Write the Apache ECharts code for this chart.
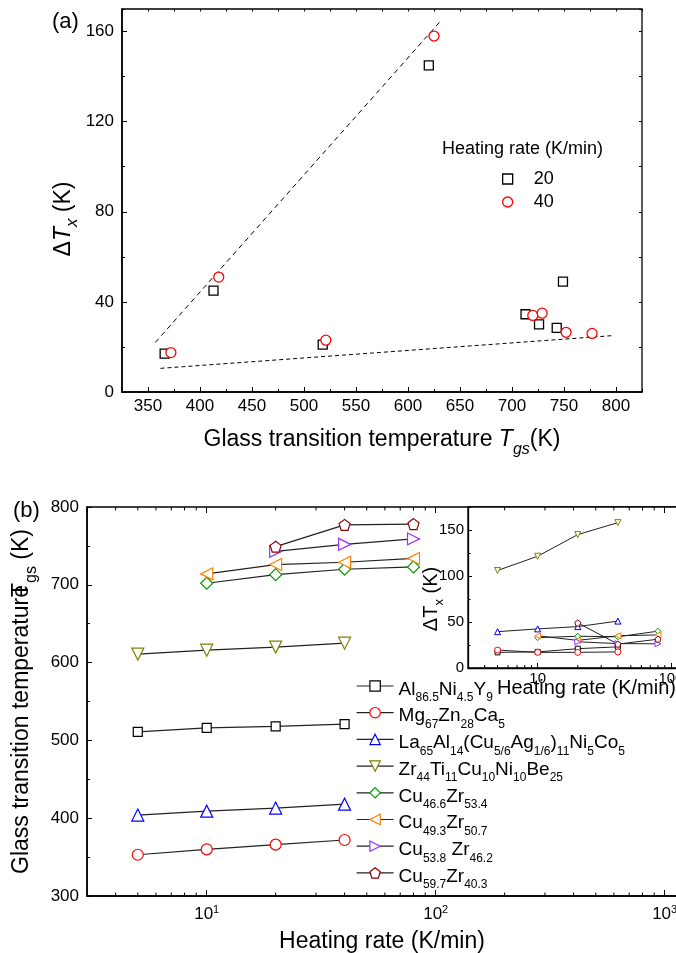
<!DOCTYPE html>
<html>
<head>
<meta charset="utf-8">
<script src="https://cdn.jsdelivr.net/npm/echarts@6/dist/echarts.min.js"></script>
<style>
  html, body { margin: 0; padding: 0; background: #fff; }
  #chart { width: 676px; height: 953px; }
</style>
</head>
<body>
<div id="chart"></div>
<script>
const FONT = '"Liberation Sans", Arial, Helvetica, sans-serif';

// Heating rates (K/min)
const rates = [5, 10, 20, 40, 80];

// Alloys (legend ids) and their formula pieces: [element, subscript]
const alloyIds = ['Al86.5Ni4.5Y9', 'Mg67Zn28Ca5', 'La65Al14(Cu5/6Ag1/6)11Ni5Co5',
  'Zr44Ti11Cu10Ni10Be25', 'Cu46.6Zr53.4', 'Cu49.3Zr50.7', 'Cu53.8Zr46.2', 'Cu59.7Zr40.3'];
const formulaParts = [
  [['Al', '86.5'], ['Ni', '4.5'], ['Y', '9']],
  [['Mg', '67'], ['Zn', '28'], ['Ca', '5']],
  [['La', '65'], ['Al', '14'], ['(Cu', '5/6'], ['Ag', '1/6'], [')', '11'], ['Ni', '5'], ['Co', '5']],
  [['Zr', '44'], ['Ti', '11'], ['Cu', '10'], ['Ni', '10'], ['Be', '25']],
  [['Cu', '46.6'], ['Zr', '53.4']],
  [['Cu', '49.3'], ['Zr', '50.7']],
  [['Cu', '53.8'], [' Zr', '46.2']],
  [['Cu', '59.7'], ['Zr', '40.3']]
];

// Glass transition temperature Tgs (K) at each heating rate
const tgAl    = [511, 516, 518, 521, null];
const tgMg    = [353, 360, 366, 372, null];
const tgLa    = [404, 409, 413, 418, null];
const tgZr    = [611, 616, 620, 625, null];
const tgCu466 = [null, 702, 713, 720, 723];
const tgCu493 = [null, 714, 726, 729, 734];
const tgCu538 = [null, null, 743, 752, 759];
const tgCu597 = [null, null, 749, 777, 778];

// Supercooled liquid region ΔTx (K) at each heating rate
const dtAl    = [17, 17.5, 21, 23, null];
const dtMg    = [19.5, 17, 17, 17.5, null];
const dtLa    = [39.5, 42.5, 45, 51, null];
const dtZr    = [106, 121.5, 145, 158, null];
const dtCu466 = [null, 33, 34.5, 34, 40];
const dtCu493 = [null, 35, 30, 35, 36];
const dtCu538 = [null, null, 28.5, 26.5, 26.3];
const dtCu597 = [null, null, 49, 26, 31.3];

// Dashed guide lines in panel (a): [Tgs, ΔTx] end points
const guideUpper = [[357, 22], [632, 165]];
const guideLower = [[362, 10.5], [796, 25]];

// Heating rates shown in panel (a)
const rateA = [20, 40];

// Log-axis minor tick positions
const logMinorTicks = [4, 5, 6, 7, 8, 9, 20, 30, 40, 50, 60, 70, 80, 90,
  200, 300, 400, 500, 600, 700, 800, 900];

const tgRows = [tgAl, tgMg, tgLa, tgZr, tgCu466, tgCu493, tgCu538, tgCu597];
const dtRows = [dtAl, dtMg, dtLa, dtZr, dtCu466, dtCu493, dtCu538, dtCu597];

// Marker styling per alloy
const PENTAGON = 'path://M50,0 L97.6,34.5 L79.4,90.5 L20.6,90.5 L2.4,34.5 Z';
const alloyColors  = ['#000000', '#ff0000', '#0000ff', '#808000', '#009a00', '#ff8000', '#9933ff', '#8b0000'];
const alloySymbols = ['rect', 'circle', 'triangle', 'triangle', 'diamond', 'triangle', 'triangle', PENTAGON];
const alloyRotate  = [0, 0, 0, 180, 0, 90, -90, 0];
const mainSizes    = [9, 11, 12, 12, 12, 12, 12, 11];
const insetSizes   = [5, 6, 6, 6, 6, 6, 6, 6];

const richFormula = parts => parts.map(p => '{n|' + p[0] + '}{s|' + p[1] + '}').join('');
const labelById = {};
alloyIds.forEach((id, k) => { labelById[id] = richFormula(formulaParts[k]); });

const pairs = (xs, ys) => xs.map((x, i) => [x, ys[i]]).filter(d => d[0] != null && d[1] != null);

const tickStyle = { color: '#000', width: 1 };

// Minor ticks for log axes, drawn through the axis scale
function minorTicks(xi, yi, yRef, dir, len) {
  return {
    type: 'custom', xAxisIndex: xi, yAxisIndex: yi, silent: true, clip: true, z: 5,
    data: logMinorTicks.map(v => [v, yRef]),
    encode: { x: 0, y: 1 },
    renderItem: (params, api) => {
      const p = api.coord([api.value(0), api.value(1)]);
      return { type: 'line', shape: { x1: p[0], y1: p[1], x2: p[0], y2: p[1] + dir * len },
        style: { stroke: '#000', lineWidth: 1 } };
    }
  };
}

const series = [];

// Panel (a): ΔTx vs Tgs at 20 and 40 K/min
const aSymbols = ['rect', 'circle'];
const aColors = ['#000000', '#ff0000'];
const aSizes = [9, 10];
rateA.forEach((r, j) => {
  const idx = rates.indexOf(r);
  series.push({
    name: String(r), type: 'scatter', xAxisIndex: 0, yAxisIndex: 0,
    symbol: aSymbols[j], symbolSize: aSizes[j],
    itemStyle: { color: '#fff', borderColor: aColors[j], borderWidth: 1.3, opacity: 1 },
    data: tgRows.map((row, k) => [row[idx], dtRows[k][idx]]),
    z: 3
  });
});
[guideUpper, guideLower].forEach((g, j) => {
  series.push({
    type: 'line', xAxisIndex: 0, yAxisIndex: 0, symbol: 'none', silent: true,
    lineStyle: { color: '#000', width: 1, type: j === 0 ? [5, 4] : [4, 3] },
    data: g, z: 2
  });
});

// Panel (b): Tgs vs heating rate
alloyIds.forEach((id, k) => {
  series.push({
    name: id, type: 'line', xAxisIndex: 3, yAxisIndex: 3,
    symbol: alloySymbols[k], symbolSize: mainSizes[k], symbolRotate: alloyRotate[k],
    showAllSymbol: true,
    itemStyle: { color: '#fff', borderColor: alloyColors[k], borderWidth: 1.2 },
    lineStyle: { color: '#222', width: 1.2 },
    data: pairs(rates, tgRows[k]), z: 3
  });
});

// Inset: ΔTx vs heating rate
alloyIds.forEach((id, k) => {
  series.push({
    name: id, type: 'line', xAxisIndex: 5, yAxisIndex: 4,
    symbol: alloySymbols[k], symbolSize: insetSizes[k], symbolRotate: alloyRotate[k],
    showAllSymbol: true,
    itemStyle: { color: '#fff', borderColor: alloyColors[k], borderWidth: 1 },
    lineStyle: { color: '#222', width: 1 },
    data: pairs(rates, dtRows[k]), z: 3
  });
});

series.push(minorTicks(3, 3, 300, -1, 3.5));
series.push(minorTicks(4, 3, 800, 1, 3.5));
series.push(minorTicks(5, 4, 0, -1, 3));

const labelBase = { color: '#000', fontFamily: FONT };

const option = {
  animation: false,
  backgroundColor: '#fff',
  textStyle: { fontFamily: FONT, color: '#000' },
  grid: [
    { left: 122, top: 9, width: 520, height: 383, outerBoundsMode: 'none', show: true, borderColor: '#000', borderWidth: 1.3, backgroundColor: 'transparent' },
    { left: 87, top: 507, width: 618, height: 389, outerBoundsMode: 'none', show: true, borderColor: '#000', borderWidth: 1.3, backgroundColor: 'transparent' },
    { left: 468, top: 507, width: 243, height: 161, outerBoundsMode: 'none', show: true, borderColor: '#000', borderWidth: 1.3, backgroundColor: '#fff' }
  ],
  xAxis: [
    { // 0: panel (a) bottom
      gridIndex: 0, type: 'value', position: 'bottom', min: 325, max: 825,
      splitNumber: 10, minInterval: 50, maxInterval: 50,
      axisLine: { show: true, onZero: false, lineStyle: { color: '#000', width: 1.6 } },
      axisTick: { inside: true, length: 5, lineStyle: tickStyle },
      axisLabel: Object.assign({ fontSize: 17, margin: 6, showMinLabel: false, showMaxLabel: false }, labelBase),
      splitLine: { show: false },
      name: '{n|Glass transition temperature }{i|T}{si|gs}{n|(K)}',
      nameLocation: 'middle', nameGap: 36,
      nameTextStyle: { rich: {
        n: { fontSize: 23, lineHeight: 26, verticalAlign: 'top', fontFamily: FONT, color: '#000' },
        i: { fontSize: 23, lineHeight: 26, verticalAlign: 'top', fontStyle: 'italic', fontFamily: FONT, color: '#000' },
        si: { fontSize: 16, lineHeight: 16, verticalAlign: 'top', fontStyle: 'italic', padding: [14, 0, 0, 0], fontFamily: FONT, color: '#000' }
      } }
    },
    { // 1: panel (a) bottom minor ticks
      gridIndex: 0, type: 'value', position: 'bottom', min: 325, max: 825, interval: 25,
      axisLine: { show: false, onZero: false }, axisTick: { inside: true, length: 3, lineStyle: tickStyle },
      axisLabel: { show: false }, splitLine: { show: false }
    },
    { // 2: panel (a) top ticks
      gridIndex: 0, type: 'value', position: 'top', min: 325, max: 825, interval: 25,
      axisLine: { show: false, onZero: false }, axisTick: { inside: true, length: 2.5, lineStyle: tickStyle },
      axisLabel: { show: false }, splitLine: { show: false }
    },
    { // 3: panel (b) bottom, log
      gridIndex: 1, type: 'log', logBase: 10, position: 'bottom', min: 3, max: 1500,
      axisLine: { show: true, onZero: false, lineStyle: { color: '#000', width: 1.6 } },
      axisTick: { inside: true, length: 6, lineStyle: tickStyle },
      axisLabel: {
        showMinLabel: false, showMaxLabel: false, margin: 8,
        formatter: v => '{b|10}{p|' + Math.round(Math.log10(v)) + '}',
        rich: {
          b: { fontSize: 17, lineHeight: 20, fontFamily: FONT, color: '#000' },
          p: { fontSize: 11, lineHeight: 11, verticalAlign: 'top', fontFamily: FONT, color: '#000' }
        }
      },
      splitLine: { show: false },
      name: 'Heating rate (K/min)', nameLocation: 'middle', nameGap: 34,
      nameTextStyle: { fontSize: 23, fontFamily: FONT, color: '#000', padding: [0, 28, 0, 0] }
    },
    { // 4: panel (b) top ticks
      gridIndex: 1, type: 'log', logBase: 10, position: 'top', min: 3, max: 1500,
      axisLine: { show: false, onZero: false }, axisTick: { inside: true, length: 6, lineStyle: tickStyle },
      axisLabel: { show: false }, splitLine: { show: false }
    },
    { // 5: inset bottom, log
      gridIndex: 2, type: 'log', logBase: 10, position: 'bottom', min: 3, max: 200,
      axisLine: { show: true, onZero: false, lineStyle: { color: '#000', width: 1.3 } },
      axisTick: { inside: true, length: 5, lineStyle: tickStyle },
      axisLabel: Object.assign({ fontSize: 15, margin: 3, showMinLabel: false, showMaxLabel: false }, labelBase),
      splitLine: { show: false }
    }
  ],
  yAxis: [
    { // 0: panel (a) left
      gridIndex: 0, type: 'value', position: 'left', min: 0, max: 170, interval: 40,
      axisLine: { show: true, onZero: false, lineStyle: { color: '#000', width: 1.6 } },
      axisTick: { inside: true, length: 5, lineStyle: tickStyle },
      axisLabel: Object.assign({ fontSize: 17, margin: 8, showMaxLabel: false }, labelBase),
      splitLine: { show: false }
    },
    { // 1: panel (a) left minor ticks
      gridIndex: 0, type: 'value', position: 'left', min: 0, max: 170, interval: 20,
      axisLine: { show: false, onZero: false }, axisTick: { inside: true, length: 3, lineStyle: tickStyle },
      axisLabel: { show: false }, splitLine: { show: false }
    },
    { // 2: panel (a) right ticks
      gridIndex: 0, type: 'value', position: 'right', min: 0, max: 170, interval: 20,
      axisLine: { show: false, onZero: false }, axisTick: { inside: true, length: 3, lineStyle: tickStyle },
      axisLabel: { show: false }, splitLine: { show: false }
    },
    { // 3: panel (b) left
      gridIndex: 1, type: 'value', position: 'left', min: 300, max: 800, interval: 100,
      axisLine: { show: true, onZero: false, lineStyle: { color: '#000', width: 1.6 } },
      axisTick: { inside: true, length: 5, lineStyle: tickStyle },
      minorTick: { show: true, splitNumber: 2, length: 3, lineStyle: tickStyle },
      axisLabel: Object.assign({ fontSize: 17, margin: 8 }, labelBase),
      splitLine: { show: false },
      name: '{n|Glass transition temperature}{t|T}{s|gs}{n| (K)}',
      nameLocation: 'middle', nameRotate: 90, nameGap: 40,
      nameTextStyle: { rich: {
        n: { fontSize: 23, lineHeight: 26, verticalAlign: 'top', fontFamily: FONT, color: '#000' },
        t: { fontSize: 23, lineHeight: 26, verticalAlign: 'top', padding: [0, 0, 0, -12], fontFamily: FONT, color: '#000' },
        s: { fontSize: 16, lineHeight: 16, verticalAlign: 'top', padding: [14, 0, 0, 0], fontFamily: FONT, color: '#000' }
      } }
    },
    { // 4: inset left
      gridIndex: 2, type: 'value', position: 'left', min: 0, max: 175, interval: 50,
      axisLine: { show: true, onZero: false, lineStyle: { color: '#000', width: 1.3 } },
      axisTick: { inside: true, length: 4, lineStyle: tickStyle },
      axisLabel: Object.assign({ fontSize: 15, margin: 4, showMaxLabel: false }, labelBase),
      splitLine: { show: false }
    },
    { // 5: inset left minor ticks
      gridIndex: 2, type: 'value', position: 'left', min: 0, max: 175, interval: 25,
      axisLine: { show: false, onZero: false }, axisTick: { inside: true, length: 2.5, lineStyle: tickStyle },
      axisLabel: { show: false }, splitLine: { show: false }
    }
  ],
  legend: [
    {
      data: rateA.map(String), orient: 'vertical', left: 502, top: 170, padding: 0,
      itemWidth: 10, itemHeight: 10, itemGap: 5, selectedMode: false,
      itemStyle: { borderWidth: 1.3 },
      textStyle: { fontSize: 18, lineHeight: 18, padding: [0, 0, 0, 16], fontFamily: FONT, color: '#000' }
    },
    {
      data: alloyIds, orient: 'vertical', left: 356, top: 677, padding: 0,
      itemWidth: 37, itemHeight: 13, itemGap: -0.3, selectedMode: false,
      itemStyle: { borderWidth: 1.2 },
      lineStyle: { width: 1.2 },
      formatter: name => labelById[name],
      textStyle: { rich: {
        n: { fontSize: 19, lineHeight: 18, verticalAlign: 'top', padding: [3, 0, 0, 0], fontFamily: FONT, color: '#000' },
        s: { fontSize: 12, lineHeight: 12, verticalAlign: 'top', padding: [15, 0, 0, 0], fontFamily: FONT, color: '#000' }
      } }
    }
  ],
  graphic: [
    { type: 'text', x: 52, y: 22, style: { text: '(a)', fontSize: 22, fontFamily: FONT, fill: '#000', verticalAlign: 'middle' } },
    { type: 'text', x: 13, y: 511, style: { text: '(b)', fontSize: 22, fontFamily: FONT, fill: '#000', verticalAlign: 'middle' } },
    { type: 'text', x: 442, y: 149, style: { text: 'Heating rate (K/min)', fontSize: 18, fontFamily: FONT, fill: '#000', verticalAlign: 'middle' } },
    { type: 'text', x: 65, y: 219, rotation: Math.PI / 2,
      style: { text: '{d|Δ}{t|T}{x|x}{d| (K)}', align: 'center', verticalAlign: 'middle', fill: '#000',
        rich: {
          d: { fontSize: 23, lineHeight: 26, verticalAlign: 'top', fontFamily: FONT, fill: '#000' },
          t: { fontSize: 23, lineHeight: 26, verticalAlign: 'top', fontStyle: 'italic', fontFamily: FONT, fill: '#000' },
          x: { fontSize: 17, lineHeight: 17, verticalAlign: 'top', fontStyle: 'italic', padding: [12, 0, 0, 0], fontFamily: FONT, fill: '#000' }
        } } },
    { type: 'text', x: 432, y: 599, rotation: Math.PI / 2,
      style: { text: '{d|ΔT}{x|x}{d| (K)}', align: 'center', verticalAlign: 'middle', fill: '#000',
        rich: {
          d: { fontSize: 20, lineHeight: 22, verticalAlign: 'top', fontFamily: FONT, fill: '#000' },
          x: { fontSize: 13, lineHeight: 13, verticalAlign: 'top', padding: [12, 0, 0, 0], fontFamily: FONT, fill: '#000' }
        } } },
    { type: 'text', x: 497, y: 688, style: { text: 'Heating rate (K/min)', fontSize: 20, fontFamily: FONT, fill: '#000', verticalAlign: 'middle' } }
  ],
  series: series
};

const chart = echarts.init(document.getElementById('chart'), null, { renderer: 'canvas' });
chart.setOption(option);
</script>
</body>
</html>
